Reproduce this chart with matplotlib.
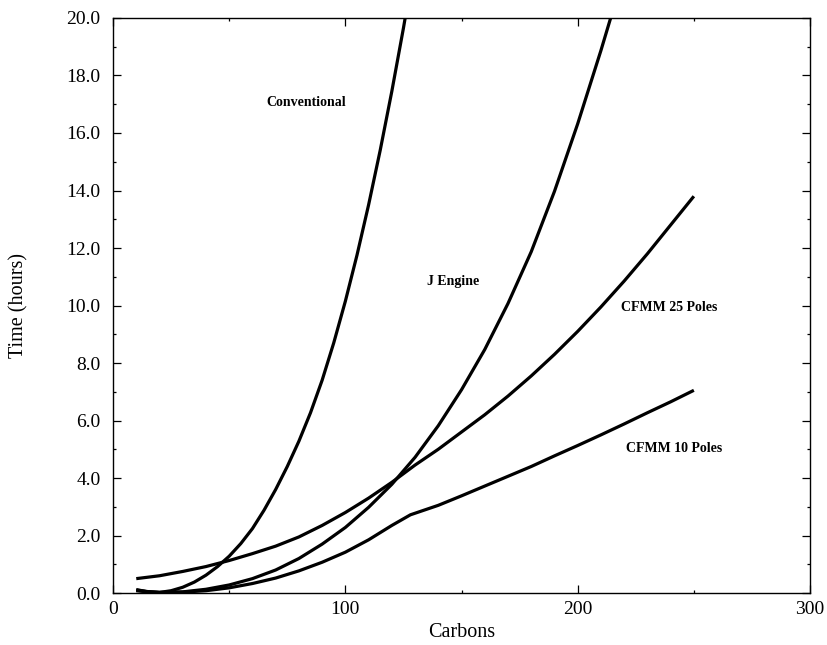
import matplotlib
matplotlib.use("Agg")
import matplotlib.pyplot as plt
from matplotlib.ticker import MultipleLocator, FormatStrFormatter

plt.rcParams['font.family'] = ['Liberation Serif', 'DejaVu Serif']

# values (carbons vs. hours)
conv_x = [10, 15, 20, 25, 30, 35, 40, 45, 50, 55, 60, 65, 70, 75, 80, 85,
          90, 95, 100, 105, 110, 115, 120, 125, 130]
conv_y = [0.12, 0.04, 0.02, 0.08, 0.2, 0.38, 0.62, 0.92, 1.28, 1.72, 2.24,
          2.88, 3.6, 4.4, 5.28, 6.27, 7.4, 8.7, 10.15, 11.75, 13.5, 15.4,
          17.45, 19.65, 22.0]

jeng_x = [10, 15, 20, 30, 40, 50, 60, 70, 80, 90, 100, 110, 120, 130, 140,
          150, 160, 170, 180, 190, 200, 210, 220]
jeng_y = [0.1, 0.05, 0.02, 0.04, 0.13, 0.28, 0.5, 0.8, 1.2, 1.7, 2.28,
          2.98, 3.78, 4.72, 5.82, 7.07, 8.47, 10.07, 11.87, 13.97, 16.32,
          18.87, 21.57]

c25_x = [10, 20, 30, 40, 50, 60, 70, 80, 90, 100, 110, 120, 130, 140, 150,
         160, 170, 180, 190, 200, 210, 220, 230, 240, 250]
c25_y = [0.5, 0.6, 0.75, 0.92, 1.13, 1.37, 1.63, 1.95, 2.35, 2.8, 3.3,
         3.85, 4.45, 5.0, 5.6, 6.2, 6.85, 7.55, 8.3, 9.1, 9.95, 10.85,
         11.8, 12.8, 13.8]

c10_x = [10, 15, 20, 30, 40, 50, 60, 70, 80, 90, 100, 110, 120, 128, 140,
         150, 160, 170, 180, 190, 200, 210, 220, 230, 240, 250]
c10_y = [0.08, 0.04, 0.02, 0.03, 0.08, 0.18, 0.33, 0.52, 0.77, 1.07, 1.42,
         1.85, 2.35, 2.72, 3.05, 3.38, 3.72, 4.06, 4.4, 4.77, 5.13, 5.5,
         5.88, 6.27, 6.65, 7.05]

fig = plt.figure(figsize=(8.28, 6.45), dpi=100)
ax = fig.add_axes([0.1365, 0.0806, 0.8418, 0.8915])

for xs, ys in [(conv_x, conv_y), (jeng_x, jeng_y), (c25_x, c25_y), (c10_x, c10_y)]:
    ax.plot(xs, ys, color='black', lw=2.3, solid_capstyle='butt',
            solid_joinstyle='round')

# curve labels
ax.text(66, 17.06, 'Conventional', fontsize=10, fontweight='bold', va='center')
ax.text(135, 10.85, 'J Engine', fontsize=10, fontweight='bold', va='center')
ax.text(218.6, 9.92, 'CFMM 25 Poles', fontsize=10, fontweight='bold', va='center')
ax.text(220.8, 5.01, 'CFMM 10 Poles', fontsize=10, fontweight='bold', va='center')

ax.set_xlim(0, 300)
ax.set_ylim(0, 20)
ax.xaxis.set_major_locator(MultipleLocator(100))
ax.xaxis.set_minor_locator(MultipleLocator(50))
ax.yaxis.set_major_locator(MultipleLocator(2))
ax.yaxis.set_minor_locator(MultipleLocator(1))
ax.yaxis.set_major_formatter(FormatStrFormatter('%.1f'))

ax.tick_params(which='both', direction='in', top=True, right=True,
               width=0.9, labelsize=14)
ax.tick_params(which='major', length=5.5)
ax.tick_params(which='minor', length=2.5)
ax.tick_params(axis='y', pad=9)
ax.tick_params(axis='x', pad=6)
for s in ax.spines.values():
    s.set_linewidth(1.0)

ax.set_xlabel('Carbons', fontsize=14.5, labelpad=3)
ax.set_ylabel('Time (hours)', fontsize=14.5, labelpad=27)

fig.savefig('out.png', dpi=100)
